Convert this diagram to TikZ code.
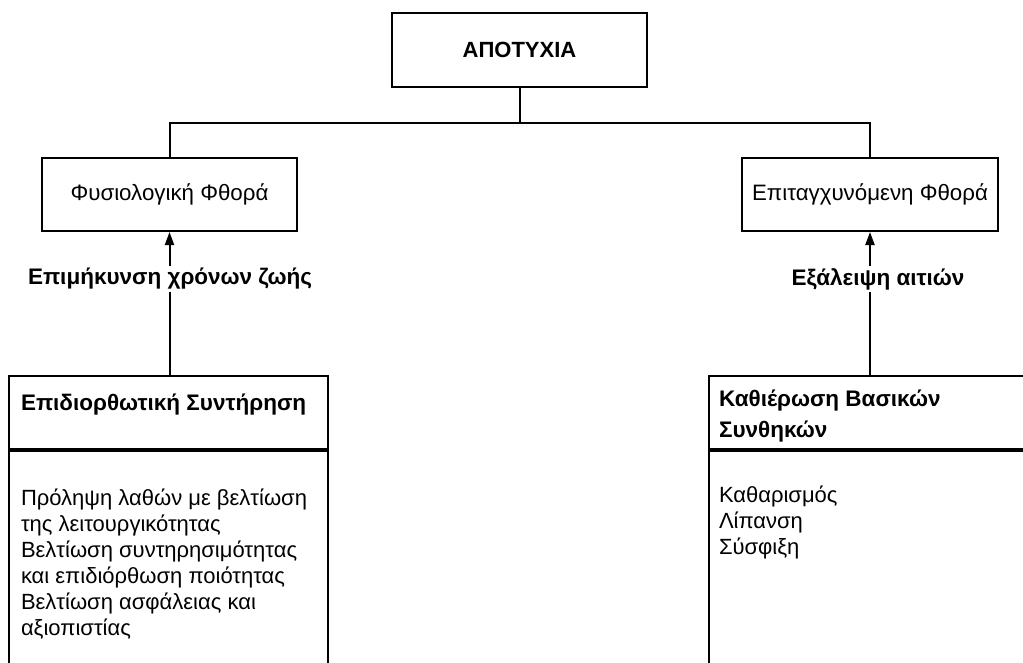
\documentclass[tikz,border=0pt]{standalone}
\usepackage{fontspec}
\setmainfont{Liberation Sans}
\usetikzlibrary{arrows.meta}
\begin{document}
\begin{tikzpicture}[x=1pt,y=-1pt,
  line width=2pt,
  box/.style={draw, rectangle, inner sep=0pt},
  lift/.style={-{Triangle[length=13pt,width=9pt]}},
  lab/.style={font=\fontsize{22.5}{26}\selectfont\bfseries, inner sep=1pt},
  midtxt/.style={font=\fontsize{22.3}{26}\selectfont},
  head/.style={font=\fontsize{22.5}{31}\selectfont\bfseries, align=left, anchor=north west, inner sep=0pt},
  listtxt/.style={font=\fontsize{22}{26}\selectfont, align=left, anchor=north west, inner sep=0pt},
]
\useasboundingbox (0,0) rectangle (1023,662);
\clip (0,0) rectangle (1023,662);

% root of the tree
\node[box, minimum width=255pt, minimum height=74pt,
      font=\fontsize{22}{26}\selectfont\bfseries] (root) at (519.5,50) {ΑΠΟΤΥΧΙΑ};

% the two kinds of wear
\node[box, minimum width=255pt, minimum height=73pt, midtxt] (phys) at (169.5,194.5) {Φυσιολογική Φθορά};
\node[box, minimum width=256pt, minimum height=73pt, midtxt] (accel) at (870,194.5) {Επιταγχυνόμενη Φθορά};

\coordinate (bus) at (519.5,123);
\draw (root.south) -- (bus) -| (phys.north);
\draw (bus) -| (accel.north);

% labels on the upward arrows
\node[lab] (life) at (170,279) {Επιμήκυνση χρόνων ζωής};
\node[lab] (causes) at (878,279) {Εξάλειψη αιτιών};

\draw[lift] (life.north -| phys.south) -- (phys.south);
\draw[lift] (causes.north -| accel.south) -- (accel.south);

% lower left box: header and open body
\node[box, minimum width=319pt, minimum height=73pt] (corrhead) at (168.5,412.5) {};
\node[box, minimum width=319pt, minimum height=260pt, anchor=north] (corrbody) at (corrhead.south) {};
\node[head] (corrtitle) at (20,393) {Επιδιορθωτική Συντήρηση};
\node[listtxt] (corrlist) at (20,488) {Πρόληψη λαθών με βελτίωση\\
της λειτουργικότητας\\
Βελτίωση συντηρησιμότητας\\
και επιδιόρθωση ποιότητας\\
Βελτίωση ασφάλειας και\\
αξιοπιστίας};

% lower right box: header and open body
\node[box, minimum width=331pt, minimum height=73pt] (basehead) at (874.5,412.5) {};
\node[box, minimum width=331pt, minimum height=260pt, anchor=north] (basebody) at (basehead.south) {};
\node[head] (basetitle) at (718,389) {Καθιέρωση Βασικών\\Συνθηκών};
\node[listtxt] (baselist) at (718,485) {Καθαρισμός\\Λίπανση\\Σύσφιξη};

\draw (life.south -| phys.south) -- (corrhead.north -| phys.south);
\draw (causes.south -| accel.south) -- (basehead.north -| accel.south);
\end{tikzpicture}
\end{document}
